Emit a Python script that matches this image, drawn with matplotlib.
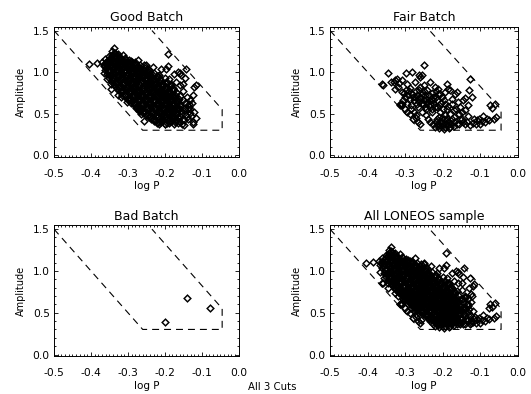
import matplotlib
matplotlib.use('Agg')
import matplotlib.pyplot as plt
import numpy as np
from matplotlib.ticker import MultipleLocator, FormatStrFormatter

# cut region in the (log P, amplitude) plane
cut_logp = [-0.5, -0.26, -0.045, -0.045, -0.235]
cut_amp = [1.5, 0.3, 0.3, 0.55, 1.5]

# Good batch (logP, amplitude)
good_pts = [
    # outer scatter
    (-0.404, 1.10), (-0.385, 1.11), (-0.338, 1.29), (-0.366, 0.99), (-0.356, 0.92),
    (-0.347, 0.80), (-0.345, 0.86), (-0.328, 0.73), (-0.318, 0.70), (-0.303, 0.64),
    (-0.278, 0.57), (-0.270, 0.53), (-0.264, 0.50), (-0.257, 0.41), (-0.215, 0.37),
    (-0.200, 0.38), (-0.274, 1.15), (-0.250, 1.08), (-0.232, 1.06), (-0.210, 1.04),
    (-0.192, 1.07), (-0.221, 0.95), (-0.192, 1.22), (-0.143, 1.04),
    (-0.165, 1.00), (-0.156, 0.96), (-0.145, 0.93), (-0.116, 0.84), (-0.120, 0.82),
    (-0.125, 0.72), (-0.132, 0.66), (-0.120, 0.52), (-0.115, 0.45), (-0.125, 0.38),
    (-0.147, 0.36), (-0.179, 0.44), (-0.134, 0.58), (-0.188, 0.92), (-0.197, 1.04),
    (-0.128, 0.47), (-0.124, 0.40), (-0.131, 0.55), (-0.126, 0.63), (-0.140, 0.70),
    (-0.150, 0.77), (-0.160, 0.85), (-0.170, 0.88), (-0.175, 0.98), (-0.160, 0.99),
    (-0.150, 0.86),
    # core
    (-0.344, 1.25), (-0.336, 1.23), (-0.327, 1.22),
    (-0.352, 1.19), (-0.343, 1.21), (-0.332, 1.19), (-0.321, 1.18), (-0.309, 1.17),
    (-0.361, 1.16), (-0.350, 1.15), (-0.339, 1.17), (-0.328, 1.15), (-0.317, 1.14),
    (-0.305, 1.15), (-0.293, 1.13), (-0.282, 1.12),
    (-0.370, 1.12), (-0.359, 1.11), (-0.348, 1.13), (-0.337, 1.11), (-0.326, 1.12),
    (-0.315, 1.10), (-0.303, 1.11), (-0.292, 1.09), (-0.281, 1.10), (-0.268, 1.09),
    (-0.257, 1.08),
    (-0.366, 1.07), (-0.355, 1.08), (-0.344, 1.06), (-0.333, 1.08), (-0.322, 1.07),
    (-0.311, 1.06), (-0.300, 1.07), (-0.289, 1.05), (-0.278, 1.06), (-0.266, 1.04),
    (-0.255, 1.05), (-0.243, 1.03),
    (-0.362, 1.03), (-0.351, 1.02), (-0.340, 1.04), (-0.329, 1.02), (-0.318, 1.03),
    (-0.307, 1.01), (-0.296, 1.02), (-0.285, 1.00), (-0.274, 1.01), (-0.263, 0.99),
    (-0.251, 1.00), (-0.240, 0.98), (-0.229, 0.99), (-0.216, 0.97),
    (-0.357, 0.98), (-0.346, 0.97), (-0.335, 0.99), (-0.324, 0.97), (-0.313, 0.98),
    (-0.302, 0.96), (-0.291, 0.97), (-0.280, 0.95), (-0.269, 0.96), (-0.258, 0.94),
    (-0.247, 0.95), (-0.236, 0.93), (-0.224, 0.94), (-0.212, 0.92), (-0.200, 0.93),
    (-0.350, 0.93), (-0.339, 0.92), (-0.328, 0.94), (-0.317, 0.92), (-0.306, 0.93),
    (-0.295, 0.91), (-0.284, 0.92), (-0.273, 0.90), (-0.262, 0.91), (-0.251, 0.89),
    (-0.240, 0.90), (-0.229, 0.88), (-0.218, 0.89), (-0.207, 0.87), (-0.195, 0.88),
    (-0.183, 0.86),
    (-0.343, 0.88), (-0.332, 0.87), (-0.321, 0.89), (-0.310, 0.87), (-0.299, 0.88),
    (-0.288, 0.86), (-0.277, 0.87), (-0.266, 0.85), (-0.255, 0.86), (-0.244, 0.84),
    (-0.233, 0.85), (-0.222, 0.83), (-0.211, 0.84), (-0.200, 0.82), (-0.189, 0.83),
    (-0.177, 0.81),
    (-0.335, 0.83), (-0.324, 0.82), (-0.313, 0.84), (-0.302, 0.82), (-0.291, 0.83),
    (-0.280, 0.81), (-0.269, 0.82), (-0.258, 0.80), (-0.247, 0.81), (-0.236, 0.79),
    (-0.225, 0.80), (-0.214, 0.78), (-0.203, 0.79), (-0.192, 0.77), (-0.181, 0.78),
    (-0.169, 0.76),
    (-0.326, 0.78), (-0.315, 0.77), (-0.304, 0.79), (-0.293, 0.77), (-0.282, 0.78),
    (-0.271, 0.76), (-0.260, 0.77), (-0.249, 0.75), (-0.238, 0.76), (-0.227, 0.74),
    (-0.216, 0.75), (-0.205, 0.73), (-0.194, 0.74), (-0.183, 0.72), (-0.172, 0.73),
    (-0.160, 0.71),
    (-0.316, 0.73), (-0.305, 0.72), (-0.294, 0.74), (-0.283, 0.72), (-0.272, 0.73),
    (-0.261, 0.71), (-0.250, 0.72), (-0.239, 0.70), (-0.228, 0.71), (-0.217, 0.69),
    (-0.206, 0.70), (-0.195, 0.68), (-0.184, 0.69), (-0.173, 0.67), (-0.162, 0.68),
    (-0.150, 0.66),
    (-0.303, 0.68), (-0.292, 0.67), (-0.281, 0.69), (-0.270, 0.67), (-0.259, 0.68),
    (-0.248, 0.66), (-0.237, 0.67), (-0.226, 0.65), (-0.215, 0.66), (-0.204, 0.64),
    (-0.193, 0.65), (-0.182, 0.63), (-0.171, 0.64), (-0.159, 0.62), (-0.146, 0.63),
    (-0.291, 0.63), (-0.280, 0.62), (-0.269, 0.64), (-0.258, 0.62), (-0.247, 0.63),
    (-0.236, 0.61), (-0.225, 0.62), (-0.214, 0.60), (-0.203, 0.61), (-0.192, 0.59),
    (-0.181, 0.60), (-0.170, 0.58), (-0.158, 0.59), (-0.145, 0.57), (-0.136, 0.61),
    (-0.279, 0.58), (-0.268, 0.57), (-0.257, 0.59), (-0.246, 0.57), (-0.235, 0.58),
    (-0.224, 0.56), (-0.213, 0.57), (-0.202, 0.55), (-0.191, 0.56), (-0.180, 0.54),
    (-0.169, 0.55), (-0.157, 0.53), (-0.146, 0.54), (-0.138, 0.56),
    (-0.266, 0.53), (-0.255, 0.52), (-0.244, 0.54), (-0.233, 0.52), (-0.222, 0.53),
    (-0.211, 0.51), (-0.200, 0.52), (-0.189, 0.50), (-0.178, 0.51), (-0.167, 0.49),
    (-0.156, 0.50), (-0.144, 0.48), (-0.133, 0.51),
    (-0.252, 0.48), (-0.241, 0.47), (-0.230, 0.49), (-0.219, 0.47), (-0.208, 0.48),
    (-0.197, 0.46), (-0.186, 0.47), (-0.175, 0.45), (-0.164, 0.46), (-0.152, 0.44),
    (-0.140, 0.46),
    (-0.238, 0.43), (-0.227, 0.42), (-0.216, 0.44), (-0.205, 0.42), (-0.194, 0.43),
    (-0.183, 0.41), (-0.172, 0.42), (-0.160, 0.40), (-0.148, 0.42), (-0.137, 0.43),
    (-0.222, 0.39), (-0.210, 0.40), (-0.199, 0.38), (-0.188, 0.39), (-0.176, 0.38),
    (-0.165, 0.39), (-0.154, 0.37),
    # densest part, in between the rows above
    (-0.339, 1.235), (-0.330, 1.205),
    (-0.348, 1.175), (-0.336, 1.195), (-0.324, 1.165), (-0.314, 1.20),
    (-0.356, 1.135), (-0.343, 1.15), (-0.334, 1.125), (-0.320, 1.155), (-0.312, 1.125),
    (-0.298, 1.14), (-0.288, 1.12),
    (-0.365, 1.09), (-0.352, 1.105), (-0.343, 1.08), (-0.330, 1.10), (-0.319, 1.085),
    (-0.307, 1.10), (-0.298, 1.075), (-0.285, 1.095), (-0.272, 1.075),
    (-0.360, 1.055), (-0.350, 1.03), (-0.337, 1.05), (-0.326, 1.025), (-0.315, 1.045),
    (-0.304, 1.02), (-0.292, 1.055), (-0.282, 1.025), (-0.270, 1.05), (-0.259, 1.02),
    (-0.247, 1.04),
    (-0.355, 1.01), (-0.343, 0.985), (-0.333, 1.005), (-0.322, 0.98), (-0.310, 1.01),
    (-0.299, 0.99), (-0.289, 1.005), (-0.277, 0.975), (-0.267, 1.00), (-0.255, 0.98),
    (-0.244, 0.995), (-0.233, 0.965),
    (-0.351, 0.96), (-0.340, 0.935), (-0.328, 0.955), (-0.318, 0.94), (-0.306, 0.965),
    (-0.296, 0.935), (-0.285, 0.955), (-0.273, 0.93), (-0.263, 0.955), (-0.251, 0.925),
    (-0.241, 0.95), (-0.229, 0.92), (-0.218, 0.945),
    (-0.344, 0.91), (-0.333, 0.885), (-0.321, 0.905), (-0.311, 0.88), (-0.299, 0.915),
    (-0.289, 0.885), (-0.277, 0.905), (-0.267, 0.875), (-0.255, 0.90), (-0.245, 0.875),
    (-0.233, 0.90), (-0.223, 0.87), (-0.211, 0.895), (-0.201, 0.865),
    (-0.337, 0.86), (-0.325, 0.835), (-0.315, 0.855), (-0.303, 0.83), (-0.293, 0.865),
    (-0.281, 0.835), (-0.271, 0.855), (-0.259, 0.825), (-0.249, 0.85), (-0.237, 0.825),
    (-0.227, 0.85), (-0.215, 0.82), (-0.205, 0.845), (-0.193, 0.815), (-0.183, 0.84),
    (-0.329, 0.81), (-0.317, 0.785), (-0.307, 0.805), (-0.295, 0.78), (-0.285, 0.815),
    (-0.273, 0.785), (-0.263, 0.805), (-0.251, 0.775), (-0.241, 0.80), (-0.229, 0.775),
    (-0.219, 0.80), (-0.207, 0.77), (-0.197, 0.795), (-0.185, 0.765), (-0.175, 0.79),
    (-0.319, 0.76), (-0.307, 0.735), (-0.297, 0.755), (-0.285, 0.73), (-0.275, 0.765),
    (-0.263, 0.735), (-0.253, 0.755), (-0.241, 0.725), (-0.231, 0.75), (-0.219, 0.725),
    (-0.209, 0.75), (-0.197, 0.72), (-0.187, 0.745), (-0.175, 0.715),
    (-0.308, 0.71), (-0.296, 0.685), (-0.286, 0.705), (-0.274, 0.68), (-0.264, 0.715),
    (-0.252, 0.685), (-0.242, 0.705), (-0.230, 0.675), (-0.220, 0.70), (-0.208, 0.675),
    (-0.198, 0.70), (-0.186, 0.67), (-0.176, 0.695), (-0.164, 0.665),
    (-0.296, 0.66), (-0.284, 0.635), (-0.274, 0.655), (-0.262, 0.63), (-0.252, 0.665),
    (-0.240, 0.635), (-0.230, 0.655), (-0.218, 0.625), (-0.208, 0.65), (-0.196, 0.625),
    (-0.186, 0.65), (-0.174, 0.62), (-0.164, 0.645),
    (-0.284, 0.61), (-0.272, 0.585), (-0.262, 0.605), (-0.250, 0.58), (-0.240, 0.615),
    (-0.228, 0.585), (-0.218, 0.605), (-0.206, 0.575), (-0.196, 0.60), (-0.184, 0.575),
    (-0.174, 0.60), (-0.162, 0.57),
    (-0.271, 0.56), (-0.259, 0.535), (-0.249, 0.555), (-0.237, 0.53), (-0.227, 0.565),
    (-0.215, 0.535), (-0.205, 0.555), (-0.193, 0.525), (-0.183, 0.55), (-0.171, 0.525),
    (-0.161, 0.55),
    (-0.258, 0.51), (-0.246, 0.485), (-0.236, 0.505), (-0.224, 0.48), (-0.214, 0.515),
    (-0.202, 0.485), (-0.192, 0.505), (-0.180, 0.475), (-0.170, 0.50), (-0.158, 0.475),
    (-0.244, 0.46), (-0.232, 0.435), (-0.222, 0.455), (-0.210, 0.43), (-0.200, 0.465),
    (-0.188, 0.435), (-0.178, 0.455), (-0.166, 0.425),
    (-0.229, 0.415), (-0.217, 0.395), (-0.207, 0.41), (-0.195, 0.385), (-0.185, 0.41),
    (-0.173, 0.395),
    # still more stars in the black middle of the clump
    (-0.346, 1.165), (-0.325, 1.16), (-0.303, 1.13),
    (-0.362, 1.115), (-0.341, 1.12), (-0.318, 1.115), (-0.296, 1.105),
    (-0.358, 1.065), (-0.336, 1.07), (-0.314, 1.065), (-0.292, 1.06), (-0.270, 1.055),
    (-0.353, 1.015), (-0.331, 1.02), (-0.309, 1.015), (-0.288, 1.01), (-0.266, 1.005),
    (-0.245, 1.00),
    (-0.349, 0.965), (-0.327, 0.97), (-0.305, 0.965), (-0.284, 0.96), (-0.262, 0.955),
    (-0.240, 0.95), (-0.219, 0.955),
    (-0.342, 0.92), (-0.320, 0.915), (-0.298, 0.92), (-0.277, 0.91), (-0.255, 0.915),
    (-0.233, 0.905), (-0.212, 0.91),
    (-0.335, 0.87), (-0.313, 0.865), (-0.291, 0.87), (-0.270, 0.86), (-0.248, 0.865),
    (-0.226, 0.855), (-0.205, 0.86), (-0.186, 0.85),
    (-0.327, 0.82), (-0.305, 0.815), (-0.283, 0.82), (-0.262, 0.81), (-0.240, 0.815),
    (-0.218, 0.805), (-0.197, 0.81), (-0.178, 0.80),
    (-0.318, 0.77), (-0.296, 0.765), (-0.274, 0.77), (-0.253, 0.76), (-0.231, 0.765),
    (-0.209, 0.755), (-0.188, 0.76),
    (-0.307, 0.72), (-0.285, 0.715), (-0.263, 0.72), (-0.242, 0.71), (-0.220, 0.715),
    (-0.198, 0.705), (-0.177, 0.71),
    (-0.295, 0.67), (-0.273, 0.665), (-0.251, 0.67), (-0.230, 0.66), (-0.208, 0.665),
    (-0.186, 0.655), (-0.167, 0.66),
    (-0.283, 0.62), (-0.261, 0.615), (-0.239, 0.62), (-0.218, 0.61), (-0.196, 0.615),
    (-0.176, 0.605),
    (-0.270, 0.57), (-0.248, 0.565), (-0.226, 0.57), (-0.205, 0.56), (-0.184, 0.565),
    (-0.165, 0.555),
    (-0.256, 0.52), (-0.234, 0.515), (-0.212, 0.52), (-0.191, 0.51), (-0.170, 0.515),
    (-0.240, 0.47), (-0.218, 0.465), (-0.197, 0.47), (-0.176, 0.46),
]

# Fair batch
fair_pts = [
    (-0.361, 0.86), (-0.346, 0.99), (-0.358, 0.85), (-0.327, 0.90), (-0.322, 0.92),
    (-0.298, 0.99), (-0.281, 1.00), (-0.329, 0.88), (-0.309, 0.91), (-0.318, 0.82),
    (-0.296, 0.86), (-0.309, 0.76), (-0.287, 0.81), (-0.274, 0.88), (-0.260, 0.94),
    (-0.305, 0.66), (-0.314, 0.61), (-0.310, 0.60), (-0.296, 0.52), (-0.278, 0.44),
    (-0.260, 0.38), (-0.284, 0.56), (-0.269, 0.62), (-0.274, 0.70), (-0.256, 0.74),
    (-0.260, 0.82), (-0.251, 0.66), (-0.254, 0.52), (-0.250, 1.09), (-0.256, 0.96),
    (-0.127, 0.92), (-0.129, 0.79), (-0.123, 0.70), (-0.145, 0.66), (-0.167, 0.74),
    (-0.176, 0.67), (-0.074, 0.60), (-0.062, 0.62), (-0.065, 0.44), (-0.083, 0.44),
    (-0.096, 0.41), (-0.105, 0.44), (-0.092, 0.47), (-0.118, 0.43), (-0.136, 0.40),
    (-0.127, 0.36), (-0.149, 0.44), (-0.158, 0.50), (-0.171, 0.54), (-0.185, 0.59),
    (-0.198, 0.66), (-0.207, 0.74), (-0.220, 0.82), (-0.234, 0.88), (-0.225, 0.70),
    (-0.242, 0.78), (-0.251, 0.84), (-0.194, 0.76), (-0.180, 0.78), (-0.154, 0.58),
    (-0.140, 0.54), (-0.171, 0.46), (-0.189, 0.42), (-0.207, 0.36), (-0.220, 0.34),
    (-0.198, 0.32), (-0.180, 0.34), (-0.163, 0.37), (-0.234, 0.40), (-0.211, 0.46),
    (-0.229, 0.52), (-0.247, 0.58), (-0.216, 0.58), (-0.238, 0.66), (-0.260, 0.70),
    (-0.207, 0.52), (-0.194, 0.48), (-0.163, 0.76), (-0.185, 0.80), (-0.140, 0.69),
    (-0.189, 0.86), (-0.262, 0.97),
    (-0.212, 0.38), (-0.205, 0.41), (-0.200, 0.36), (-0.196, 0.43), (-0.192, 0.38),
    (-0.186, 0.36), (-0.202, 0.45), (-0.215, 0.43), (-0.209, 0.33), (-0.193, 0.34),
    (-0.183, 0.40), (-0.178, 0.37),
    (-0.283, 0.74), (-0.276, 0.66), (-0.268, 0.73), (-0.265, 0.58), (-0.262, 0.64),
    (-0.257, 0.69), (-0.252, 0.61), (-0.248, 0.72), (-0.244, 0.55), (-0.241, 0.63),
    (-0.236, 0.59), (-0.232, 0.68), (-0.228, 0.56), (-0.224, 0.62), (-0.219, 0.77),
    (-0.215, 0.66), (-0.212, 0.80), (-0.210, 0.60), (-0.203, 0.70), (-0.288, 0.67),
    (-0.292, 0.72), (-0.300, 0.70), (-0.295, 0.62), (-0.285, 0.60), (-0.277, 0.52),
    (-0.270, 0.48), (-0.245, 0.48), (-0.240, 0.44),
    (-0.153, 0.44), (-0.145, 0.40), (-0.132, 0.47), (-0.112, 0.38), (-0.100, 0.38),
    (-0.088, 0.40), (-0.078, 0.42), (-0.058, 0.46), (-0.070, 0.57), (-0.150, 0.52),
    (-0.165, 0.56), (-0.175, 0.62), (-0.160, 0.64), (-0.132, 0.60),
    (-0.312, 0.62), (-0.308, 0.61), (-0.315, 0.60), (-0.302, 0.75), (-0.297, 0.78),
    (-0.290, 0.77), (-0.280, 0.70), (-0.272, 0.77), (-0.266, 0.68), (-0.262, 0.78),
    (-0.255, 0.63), (-0.250, 0.77), (-0.246, 0.68), (-0.238, 0.72), (-0.234, 0.62),
    (-0.230, 0.75), (-0.226, 0.66), (-0.222, 0.58), (-0.218, 0.70), (-0.213, 0.74),
    (-0.205, 0.63), (-0.200, 0.55), (-0.195, 0.62), (-0.188, 0.55), (-0.182, 0.50),
    (-0.176, 0.44), (-0.170, 0.40), (-0.190, 0.45), (-0.204, 0.39), (-0.217, 0.40),
    (-0.226, 0.37), (-0.214, 0.35), (-0.184, 0.33), (-0.170, 0.35), (-0.156, 0.38),
    (-0.140, 0.37), (-0.120, 0.39), (-0.108, 0.42), (-0.265, 0.40), (-0.272, 0.45),
    (-0.288, 0.50), (-0.300, 0.56), (-0.328, 0.80), (-0.338, 0.88), (-0.316, 0.87),
]

# Bad batch
bad_logp = [-0.201, -0.140, -0.078]
bad_amp = [0.386, 0.671, 0.562]

good = np.array(good_pts)
fair = np.array(fair_pts)
bad = np.column_stack([bad_logp, bad_amp])
allpts = np.vstack([good, fair, bad])

plt.rcParams['font.family'] = ['DejaVu Sans']
plt.rcParams['lines.scale_dashes'] = False

fig = plt.figure(figsize=(5.31, 3.94), dpi=100)

panels = [
    ('Good Batch', good, [0.1017, 0.602, 0.348, 0.330]),
    ('Fair Batch', fair, [0.6215, 0.602, 0.354, 0.330]),
    ('Bad Batch', bad, [0.1017, 0.096, 0.348, 0.332]),
    ('All LONEOS sample', allpts, [0.6215, 0.096, 0.354, 0.332]),
]

for title, pts, pos in panels:
    ax = fig.add_axes(pos)
    ax.plot(cut_logp, cut_amp, color='black', lw=0.8, dashes=(5.0, 3.6))
    ax.plot(pts[:, 0], pts[:, 1], linestyle='none', marker='D', ms=3.4,
            mfc='none', mec='black', mew=1.05)
    ax.set_xlim(-0.5, 0.0)
    ax.set_ylim(-0.02, 1.545)
    ax.xaxis.set_major_locator(MultipleLocator(0.1))
    ax.xaxis.set_minor_locator(MultipleLocator(0.01))
    ax.yaxis.set_major_locator(MultipleLocator(0.5))
    ax.yaxis.set_minor_locator(MultipleLocator(0.1))
    ax.tick_params(which='both', direction='in', top=True, right=True, width=0.6,
                   labelsize=7.7)
    ax.tick_params(which='major', length=3.0)
    ax.tick_params(which='minor', length=1.5)
    ax.tick_params(axis='x', pad=8.5)
    ax.tick_params(axis='y', pad=3)
    ax.xaxis.set_major_formatter(FormatStrFormatter('%.1f'))
    ax.yaxis.set_major_formatter(FormatStrFormatter('%.1f'))
    for s in ax.spines.values():
        s.set_linewidth(0.7)
    ax.set_xlabel('log P', fontsize=7.5, labelpad=2)
    ax.set_ylabel('Amplitude', fontsize=7, labelpad=5)
    ax.set_title(title, fontsize=9, pad=4)

fig.text(0.512, 0.018, 'All 3 Cuts', ha='center', va='center', fontsize=7.3)

fig.savefig('out.png', dpi=100)
